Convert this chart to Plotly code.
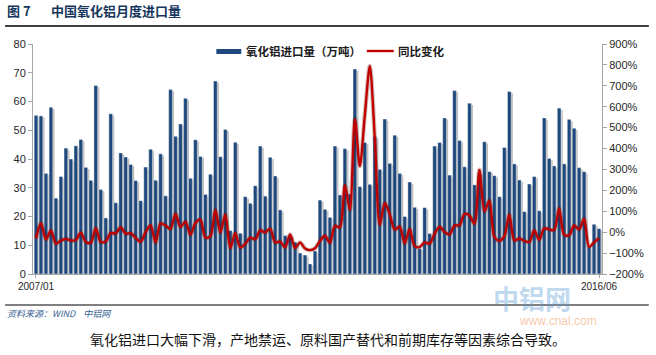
import plotly.graph_objects as go
import pandas as pd

months = pd.date_range("2007-01", periods=114, freq="MS").strftime("%Y/%m").tolist()
tick_labels = ["2007/01", "2016/06"]

imports = [
    55.2, 55.0, 35.0, 58.0, 26.4, 33.9, 43.8, 40.0, 44.6, 46.8, 37.1, 32.6,
    65.6, 29.4, 19.5, 55.7, 24.8, 42.1, 40.7, 38.1, 32.5, 25.5, 37.2, 43.4,
    32.6, 41.8, 27.2, 64.2, 47.9, 52.2, 61.1, 33.3, 46.7, 40.9, 27.7, 34.7,
    67.1, 40.8, 50.3, 15.1, 45.8, 14.2, 26.9, 24.6, 30.7, 44.5, 27.1, 40.6,
    34.1, 22.3, 13.4, 13.5, 11.1, 7.3, 6.6, 3.5, 8.0, 25.7, 22.5, 19.7,
    44.5, 27.5, 43.6, 27.8, 71.3, 30.4, 45.7, 31.2, 47.8, 36.4, 53.9, 38.5,
    48.3, 35.0, 20.0, 32.0, 23.2, 8.8, 23.1, 14.1, 44.5, 45.7, 54.3, 34.4,
    63.8, 46.4, 37.3, 59.4, 31.0, 35.0, 46.0, 35.6, 34.2, 26.9, 44.0, 63.5,
    38.3, 32.7, 21.7, 31.3, 33.9, 22.0, 54.3, 40.2, 37.6, 57.7, 38.3, 53.8,
    50.7, 37.0, 35.6, 9.4, 17.3, 15.8,
]

yoy = [
    -30, 43, -35, 8, -55, -40, -32, -40, -37, -2, -47, -51,
    19, -47, -44, -4, -6, 24, -7, -5, -27, -46, 0, 33,
    -50, 42, 32, 15, 88, 24, 50, -13, 44, 60, -26, -20,
    106, -2, 85, -76, -4, -73, -56, -26, -34, 9, -2, 17,
    -49, -45, -73, -11, -76, -49, -78, -86, -77, -42, -17, -51,
    30, 23, 225, 106, 542, 316, 560, 795, 450, 35, 140, 85,
    12, 27, -54, 15, -67, -71, -49, -55, -7, 26, 1, -11,
    32, 33, 87, 80, 40, 298, 99, 152, -23, -41, -19, 85,
    -40, -30, -42, -47, 9, -37, 18, 13, 10, 114, -13, -15,
    32, 13, 64, -70, -49, -28,
]

L, R, T, B = 33, 604, 44, 274
W, H = 656, 355


def px(x):
    return (x - L) / (R - L)


def py(y):
    return (B - y) / (B - T)


fig = go.Figure()

# bar shadow
fig.add_trace(go.Bar(
    x=months, y=imports, base=-0.6, width=0.74, offset=-0.02,
    marker=dict(color="rgba(150,150,150,0.6)", line=dict(width=0)),
    hoverinfo="skip", showlegend=False,
))
fig.add_trace(go.Bar(
    x=months, y=imports, width=0.74, offset=-0.37,
    marker=dict(color="#1F497D", line=dict(color="#FFFFFF", width=0.4)),
    name="氧化铝进口量（万吨）", showlegend=False,
))
# line shadow
fig.add_trace(go.Scatter(
    x=months, y=yoy, yaxis="y2", mode="lines",
    line=dict(color="rgba(90,0,0,0.25)", width=4.5, shape="spline", smoothing=0.8),
    hoverinfo="skip", showlegend=False,
))
fig.add_trace(go.Scatter(
    x=months, y=yoy, yaxis="y2", mode="lines",
    line=dict(color="#C00000", width=2.4, shape="spline", smoothing=0.8),
    name="同比变化", showlegend=False,
))

tickfont = dict(family="Liberation Sans, Arial, sans-serif", size=11, color="#262626")

fig.update_layout(
    width=W, height=H,
    margin=dict(l=L, r=W - R, t=T, b=H - B),
    paper_bgcolor="white", plot_bgcolor="white",
    barmode="overlay",
    xaxis=dict(
        type="category", tickmode="array", tickvals=[months[0], months[-1]],
        ticktext=tick_labels, showgrid=False, showline=True, linecolor="#A6A6A6",
        linewidth=1, ticks="outside", ticklen=3, tickcolor="#A6A6A6",
        tickfont=dict(family="Liberation Sans, Arial, sans-serif", size=10, color="#262626"),
        range=[-0.6, 113.6],
    ),
    yaxis=dict(
        range=[0, 80], dtick=10, showgrid=False, showline=True, linecolor="#A6A6A6",
        ticks="outside", ticklen=4, tickcolor="#A6A6A6", tickfont=tickfont,
        zeroline=False,
    ),
    yaxis2=dict(
        range=[-200, 900], dtick=100, ticksuffix="%", overlaying="y", side="right",
        showgrid=False, showline=True, linecolor="#A6A6A6", ticks="outside",
        ticklen=4, tickcolor="#A6A6A6", tickfont=tickfont, zeroline=False,
    ),
    font=dict(family="Noto Sans CJK SC, sans-serif"),
)

cjk = "Noto Sans CJK SC, sans-serif"
anns = [
    dict(text="<b>图 7</b>", x=px(5), y=py(11), xanchor="left", yanchor="middle",
         font=dict(family=cjk, size=13, color="#17365D")),
    dict(text="<b>中国氧化铝月度进口量</b>", x=px(49), y=py(11), xanchor="left", yanchor="middle",
         font=dict(family=cjk, size=13, color="#17365D")),
    dict(text="<b>氧化铝进口量（万吨）</b>", x=px(245), y=py(51), xanchor="left", yanchor="middle",
         font=dict(family=cjk, size=11.5, color="#1A1A1A")),
    dict(text="<b>同比变化</b>", x=px(397), y=py(51), xanchor="left", yanchor="middle",
         font=dict(family=cjk, size=11.5, color="#1A1A1A")),
    dict(text="<b>中铝网</b>", x=px(534), y=py(297), xanchor="center", yanchor="middle",
         font=dict(family=cjk, size=26, color="rgba(91,155,213,0.4)")),
    dict(text="www.cnal.com", x=px(560), y=py(321), xanchor="center", yanchor="middle",
         font=dict(family="Liberation Sans, Arial, sans-serif", size=12, color="rgba(237,125,49,0.45)")),
    dict(text="<i>资料来源：WIND    中铝网</i>", x=px(5), y=py(313), xanchor="left", yanchor="middle",
         font=dict(family=cjk, size=9, color="#365F91")),
    dict(text="氧化铝进口大幅下滑，产地禁运、原料国产替代和前期库存等因素综合导致。", x=px(329), y=py(339),
         xanchor="center", yanchor="middle",
         font=dict(family=cjk, size=14, color="#111111")),
]
for a in anns:
    a.update(xref="paper", yref="paper", showarrow=False)
fig.update_layout(annotations=anns)

shapes = [
    dict(type="line", x0=px(5), x1=px(651), y0=py(26), y1=py(26), line=dict(color="#000000", width=1.5)),
    dict(type="line", x0=px(5), x1=px(651), y0=py(305), y1=py(305), line=dict(color="#000000", width=1)),
    dict(type="rect", x0=px(217), x1=px(242), y0=py(49), y1=py(54), fillcolor="#1F497D", line=dict(width=0)),
    dict(type="line", x0=px(368), x1=px(395), y0=py(51), y1=py(51), line=dict(color="#C00000", width=2.4)),
]
for s in shapes:
    s.update(xref="paper", yref="paper")
fig.update_layout(shapes=shapes)

fig.write_html("out.html", config={"displayModeBar": False},
               post_script="document.body.style.margin='0';document.body.style.padding='0';")
